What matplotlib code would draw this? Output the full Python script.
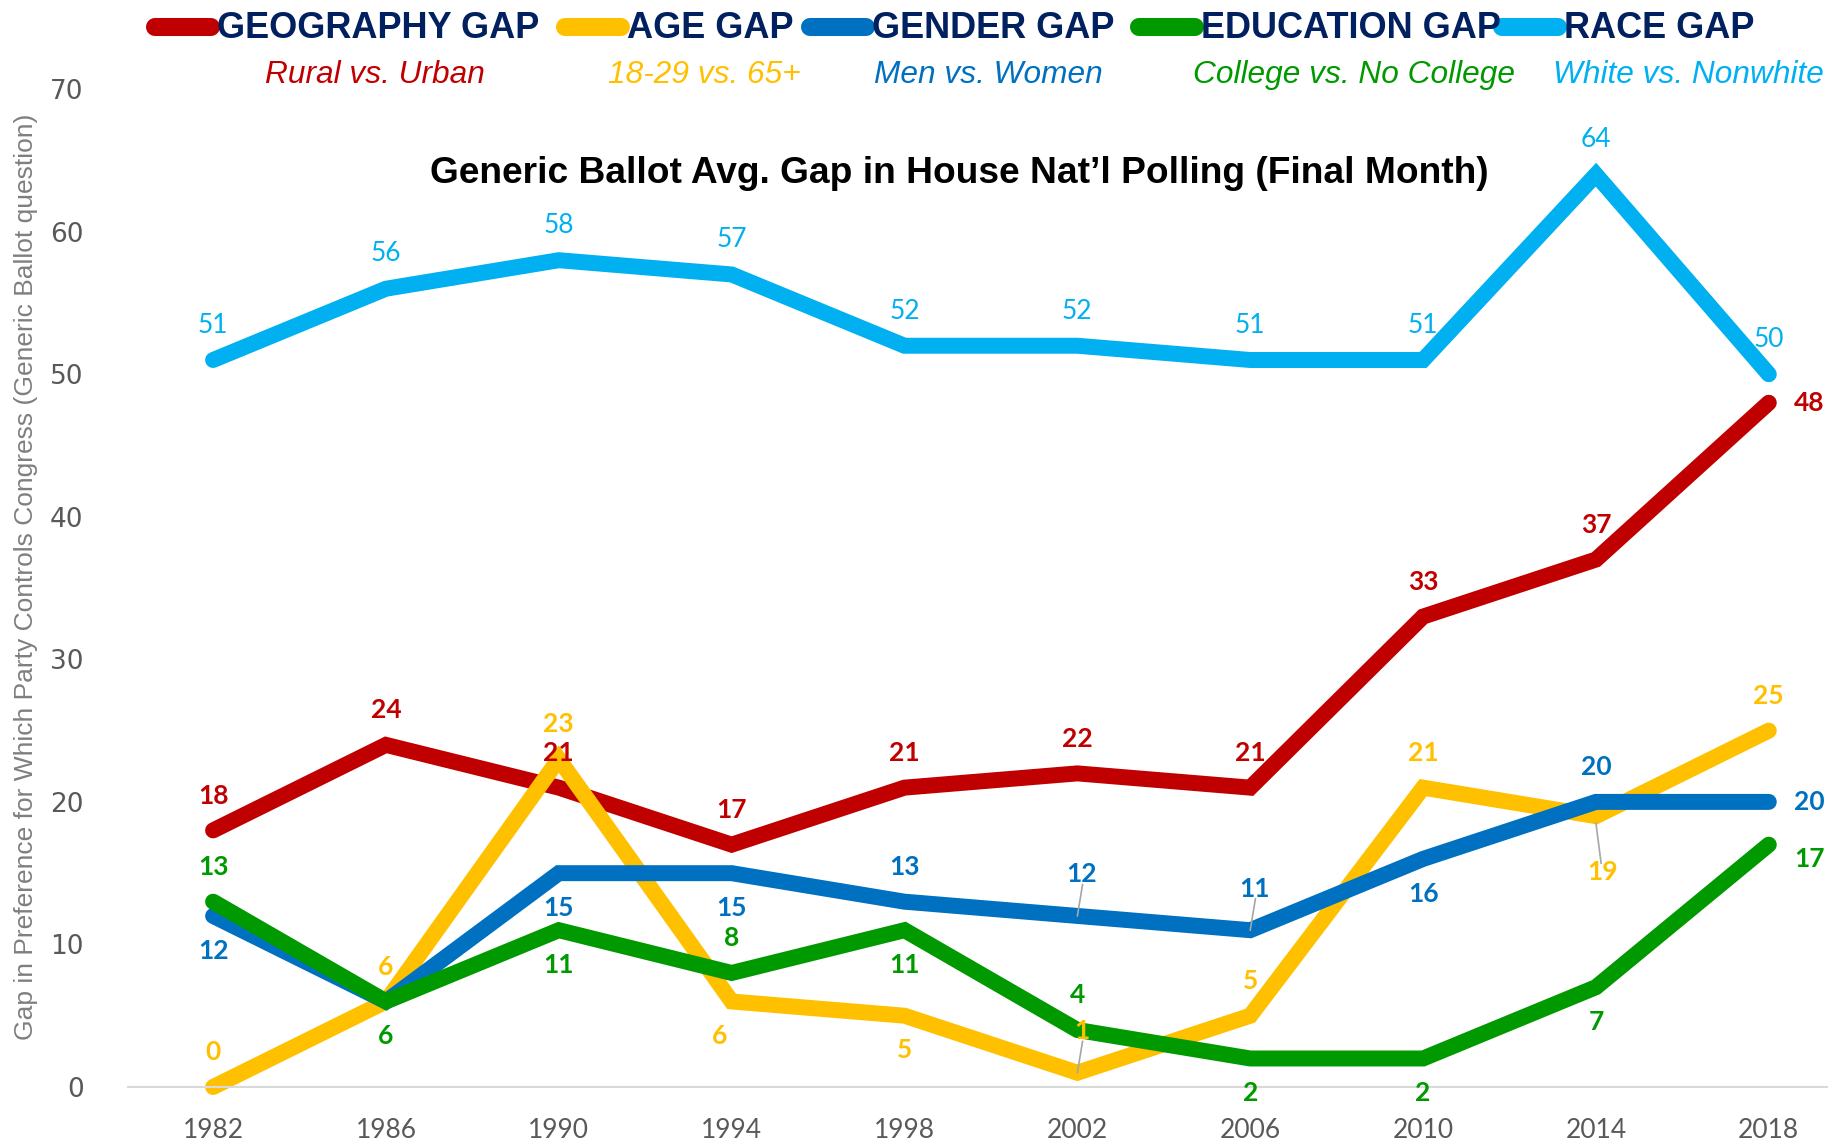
import matplotlib.pyplot as plt
from matplotlib.lines import Line2D

years = [1982, 1986, 1990, 1994, 1998, 2002, 2006, 2010, 2014, 2018]

geography = [18, 24, 21, 17, 21, 22, 21, 33, 37, 48]
age = [0, 6, 23, 6, 5, 1, 5, 21, 19, 25]
gender = [12, 6, 15, 15, 13, 12, 11, 16, 20, 20]
education = [13, 6, 11, 8, 11, 4, 2, 2, 7, 17]
race = [51, 56, 58, 57, 52, 52, 51, 51, 64, 50]

series_names = ["GEOGRAPHY GAP", "AGE GAP", "GENDER GAP", "EDUCATION GAP", "RACE GAP"]
subtitles = ["Rural vs. Urban", "18-29 vs. 65+", "Men vs. Women", "College vs. No College", "White vs. Nonwhite"]
colors = ["#C00000", "#FFC000", "#0070C0", "#009900", "#00B0F0"]
data = [geography, age, gender, education, race]

# label placement: u = above, d = below, r = right, '' = none
place = [
    ["u", "u", "u", "u", "u", "u", "u", "u", "u", "r"],
    ["u", "u", "u", "dl", "d", "uu", "u", "u", "dd", "u"],
    ["d", "", "d", "d", "u", "uu", "uu", "d", "u", "r"],
    ["u", "d", "d", "u", "d", "u", "d", "d", "d", "rd"],
    ["u", "u", "u", "u", "u", "u", "u", "u", "u", "u"],
]
bold_labels = [True, True, True, True, False]

fig = plt.figure(figsize=(18.28, 11.43), dpi=100)
ax = fig.add_axes([0.070, 0.049, 0.930, 0.873])

for vals, col in zip(data, colors):
    ax.plot(years, vals, color=col, lw=11.5, solid_capstyle="round",
            solid_joinstyle="miter", clip_on=False)

offsets = {"u": (0, 25), "uu": (3, 30), "d": (0, -25), "dl": (-9, -25), "dd": (5, -40),
           "r": (18, 0), "rd": (18, -10)}
for vals, col, pl, bold in zip(data, colors, place, bold_labels):
    for x, v, p in zip(years, vals, pl):
        if not p:
            continue
        dx, dy = offsets[p]
        ax.annotate(str(v), (x, v), xytext=(dx, dy), textcoords="offset points",
                    ha="left" if p.startswith("r") else "center", va="center",
                    color=col, fontsize=19, family="Lato",
                    fontweight="bold" if bold else "normal")

# small leader lines
for x, v, up in [(2002, 1, True), (2002, 12, True), (2006, 11, True), (2014, 19, False)]:
    if up:
        ax.plot([x, x + 0.12], [v, v + 2.2], color="#A6A6A6", lw=1.2, zorder=5)
    else:
        ax.plot([x, x + 0.12], [v - 0.5, v - 3.3], color="#A6A6A6", lw=1.2, zorder=5)

ax.set_xlim(1980.03, 2019.37)
ax.set_ylim(0, 70)
ax.set_xticks(years)
ax.set_xticklabels([str(y) for y in years], family="Lato", fontsize=19, color="#595959")
ax.set_yticks(range(0, 71, 10))
ax.set_yticklabels([str(t) for t in range(0, 71, 10)], family="DejaVu Sans", fontsize=19, color="#595959")
ax.tick_params(length=0)
ax.tick_params(axis="x", pad=22)
ax.tick_params(axis="y", pad=32)
for s in ["top", "right", "left"]:
    ax.spines[s].set_visible(False)
ax.spines["bottom"].set_color("#D9D9D9")
ax.spines["bottom"].set_linewidth(1.5)

fig.text(0.014, 0.495, "Gap in Preference for Which Party Controls Congress (Generic Ballot question)",
         rotation=90, ha="center", va="center", color="#7F7F7F", fontsize=19,
         family="Liberation Sans")

fig.text(0.525, 0.848, "Generic Ballot Avg. Gap in House Nat\u2019l Polling (Final Month)",
         ha="center", va="center", fontsize=26.7, fontweight="bold", family="Liberation Sans")

# legend
handle_x = [155, 565, 810, 1139, 1502]
sub_x = [375, 704, 988, 1354, 1688]
W, H = 1828, 1143
for name, sub, col, hx, sx in zip(series_names, subtitles, colors, handle_x, sub_x):
    fig.add_artist(Line2D([hx / W, (hx + 56) / W], [0.976, 0.976], color=col, lw=13,
                          solid_capstyle="round", transform=fig.transFigure))
    fig.text((hx + 62) / W, 0.975, name, ha="left", va="center", color="#002060",
             fontsize=26, fontweight="bold", family="Liberation Sans")
    fig.text(sx / W, 0.934, sub, ha="center", va="center", color=col, fontsize=22.8,
             style="italic", family="Liberation Sans")

fig.savefig("out.png", dpi=100)
